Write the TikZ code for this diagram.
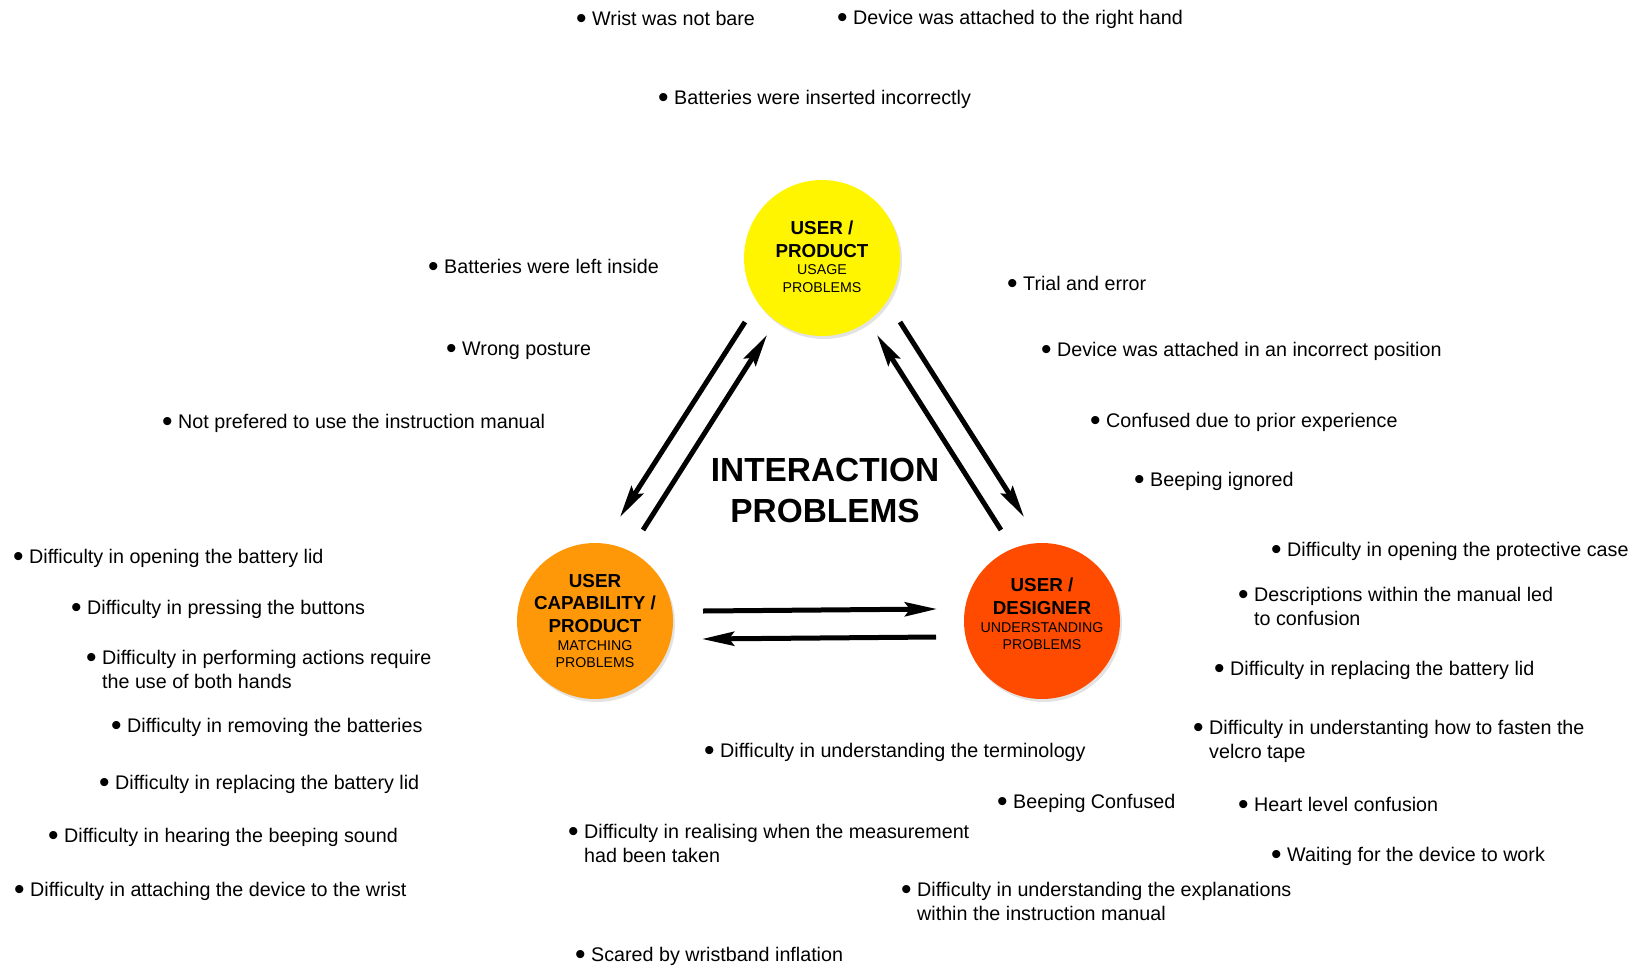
\documentclass[tikz,border=0pt]{standalone}
\usepackage{fontspec}
\setmainfont{Liberation Sans}
\usetikzlibrary{arrows.meta,shadows,calc}
\definecolor{cyel}{RGB}{255,245,0}
\definecolor{corg}{RGB}{255,152,8}
\definecolor{cred}{RGB}{255,75,0}
\tikzset{
  itm/.style={anchor=base west, inner sep=0pt, font=\fontsize{19.7}{24}\selectfont},
  circ/.style={circle, minimum size=156pt, inner sep=0pt,
    drop shadow={opacity=0.22, shadow xshift=2pt, shadow yshift=-3pt}},
  clabel/.style={inner sep=0pt},
  flow/.style={line width=5pt, -{Stealth[length=32pt,width=14pt,inset=5pt]}},
  ttl/.style={font=\fontsize{33.4}{41}\bfseries\selectfont, align=center, inner sep=0pt}
}
\newcommand\bul{\makebox[16pt][l]{\raisebox{-3.6pt}{\fontsize{30}{30}\selectfont\textbullet}}}
\newcommand\one[1]{\bul#1}
\newcommand\two[2]{\begin{tabular}[t]{@{}l@{}l@{}}\bul & #1\\ & #2\end{tabular}}
\newcommand\ctext[2]{\parbox{150pt}{\centering\fontsize{18.8}{22.5}\bfseries\selectfont #1\par
  \fontsize{14.2}{17.8}\mdseries\selectfont #2\par}}
\begin{document}
\begin{tikzpicture}[x=1pt,y=-1pt]
\fill[white] (0,0) rectangle (1637,969);
\useasboundingbox (0,0) rectangle (1637,969);
% circles
\node[circ, fill=cyel] (Y) at (822,258) {};
\node[circ, fill=corg] (O) at (595,621) {};
\node[circ, fill=cred] (R) at (1042,621) {};
\node[clabel] (Yt) at (822,257) {\ctext{USER /\\PRODUCT}{USAGE\\PROBLEMS}};
\node[clabel] (Ot) at (595,621) {\ctext{USER\\CAPABILITY /\\PRODUCT}{MATCHING\\PROBLEMS}};
\node[clabel] (Rt) at (1042,614) {\ctext{USER /\\DESIGNER}{UNDERSTANDING\\PROBLEMS}};
\node[ttl] (T) at (825,490) {INTERACTION\\PROBLEMS};
% arrow ends
\coordinate (yo1) at (745,322); \coordinate (yo2) at (620,517);
\coordinate (oy1) at (643,530); \coordinate (oy2) at (767,335);
\coordinate (yr1) at (900,322); \coordinate (yr2) at (1024,517);
\coordinate (ry1) at (1001,530); \coordinate (ry2) at (877,335);
\coordinate (or1) at (703,611); \coordinate (or2) at (937,609);
\coordinate (ro1) at (936,637); \coordinate (ro2) at (702,639);
\draw[flow] (yo1) -- (yo2);
\draw[flow] (oy1) -- (oy2);
\draw[flow] (yr1) -- (yr2);
\draw[flow] (ry1) -- (ry2);
\draw[flow] (or1) -- (or2);
\draw[flow] (ro1) -- (ro2);
% items
\node[itm] (i1) at (576,25) {\one{Wrist was not bare}};
\node[itm] (i2) at (837,24) {\one{Device was attached to the right hand}};
\node[itm] (i3) at (658,104) {\one{Batteries were inserted incorrectly}};
\node[itm] (i4) at (428,273) {\one{Batteries were left inside}};
\node[itm] (i5) at (446,355) {\one{Wrong posture}};
\node[itm] (i6) at (162,428) {\one{Not prefered to use the instruction manual}};
\node[itm] (i7) at (1007,290) {\one{Trial and error}};
\node[itm] (i8) at (1041,356) {\one{Device was attached in an incorrect position}};
\node[itm] (i9) at (1090,427) {\one{Confused due to prior experience}};
\node[itm] (i10) at (1134,486) {\one{Beeping ignored}};
\node[itm] (i11) at (1271,556) {\one{Difficulty in opening the protective case}};
\node[itm] (i12) at (1238,601) {\two{Descriptions within the manual led}{to confusion}};
\node[itm] (i13) at (1214,675) {\one{Difficulty in replacing the battery lid}};
\node[itm] (i14) at (1193,734) {\two{Difficulty in understanting how to fasten the}{velcro tape}};
\node[itm] (i15) at (1238,811) {\one{Heart level confusion}};
\node[itm] (i16) at (1271,861) {\one{Waiting for the device to work}};
\node[itm] (i17) at (997,808) {\one{Beeping Confused}};
\node[itm] (i18) at (704,757) {\one{Difficulty in understanding the terminology}};
\node[itm] (i19) at (568,838) {\two{Difficulty in realising when the measurement}{had been taken}};
\node[itm] (i20) at (901,896) {\two{Difficulty in understanding the explanations}{within the instruction manual}};
\node[itm] (i21) at (575,961) {\one{Scared by wristband inflation}};
\node[itm] (i22) at (13,563) {\one{Difficulty in opening the battery lid}};
\node[itm] (i23) at (71,614) {\one{Difficulty in pressing the buttons}};
\node[itm] (i24) at (86,664) {\two{Difficulty in performing actions require}{the use of both hands}};
\node[itm] (i25) at (111,732) {\one{Difficulty in removing the batteries}};
\node[itm] (i26) at (99,789) {\one{Difficulty in replacing the battery lid}};
\node[itm] (i27) at (48,842) {\one{Difficulty in hearing the beeping sound}};
\node[itm] (i28) at (14,896) {\one{Difficulty in attaching the device to the wrist}};
\end{tikzpicture}
\end{document}
